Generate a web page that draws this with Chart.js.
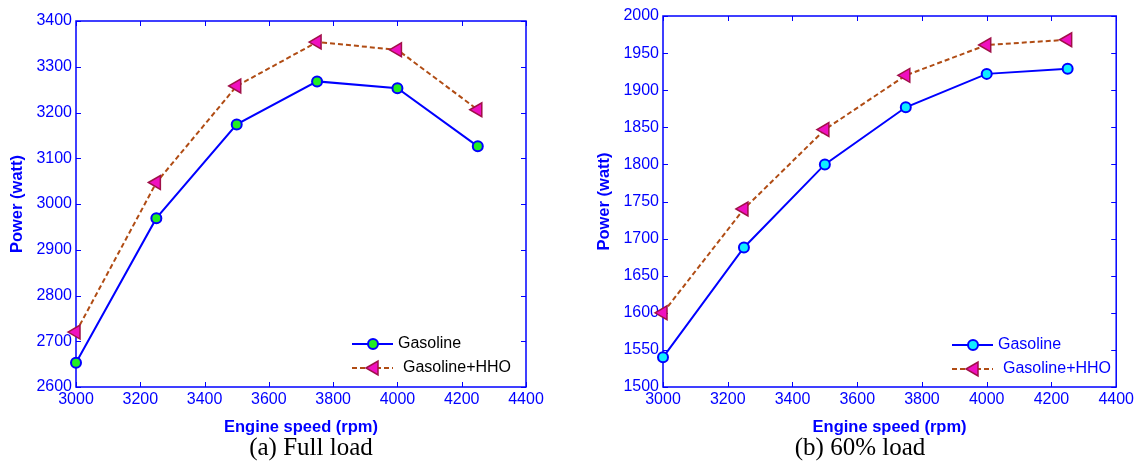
<!DOCTYPE html>
<html>
<head>
<meta charset="utf-8">
<script src="https://cdn.jsdelivr.net/npm/chart.js@4.4.0/dist/chart.umd.min.js"></script>
<style>
  body { margin: 0; background: #fff; width: 1137px; height: 465px; overflow: hidden; position: relative; }
  canvas { position: absolute; top: 0; }
  .cap { position: absolute; font-family: "Liberation Serif", "Times New Roman", serif; font-size: 25px; line-height: 28px; color: #000; white-space: nowrap; transform: translateX(-50%); }
</style>
</head>
<body>
<canvas id="chart1" width="560" height="465" style="left:0px"></canvas>
<canvas id="chart2" width="567" height="465" style="left:570px"></canvas>
<div class="cap" style="left:311px; top:433px;">(a) Full load</div>
<div class="cap" style="left:860px; top:433px;">(b) 60% load</div>
<script>
// engine speed (rpm)
var speeds = [3000, 3250, 3500, 3750, 4000, 4250];

// (a) full load
var fullGasoline = [2653, 2969, 3174, 3268, 3253, 3126];
var fullHHO = [2720, 3047, 3258, 3354, 3337, 3206];

// (b) 60% load
var partGasoline = [1540, 1688, 1800, 1877, 1922, 1929];
var partHHO = [1600, 1740, 1847, 1920, 1961, 1968];

var xTicks = [3000, 4400, 200];
var fullTicks = [2600, 3400, 100];
var partTicks = [1500, 2000, 50];

var blue = '#0000ff';
var brown = '#b04c14';

function pts(ys) {
    var arr = [];
    for (var i = 0; i < speeds.length; i++) {
        arr.push({x: speeds[i], y: ys[i]});
    }
    return arr;
}

// frame around plot + inward ticks on all four sides, like matlab
var framePlugin = {
    id: 'frame',
    beforeDatasetsDraw: function(chart) {
        var ctx = chart.ctx;
        var a = chart.chartArea;
        ctx.save();
        ctx.strokeStyle = blue;
        ctx.lineWidth = 1.5;
        ctx.strokeRect(a.left, a.top, a.right - a.left, a.bottom - a.top);
        ctx.lineWidth = 1;
        chart.scales.x.ticks.forEach(function(t) {
            var px = Math.round(chart.scales.x.getPixelForValue(t.value)) + 0.5;
            ctx.beginPath();
            ctx.moveTo(px, a.bottom); ctx.lineTo(px, a.bottom - 5);
            ctx.moveTo(px, a.top); ctx.lineTo(px, a.top + 5);
            ctx.stroke();
        });
        chart.scales.y.ticks.forEach(function(t) {
            var py = Math.round(chart.scales.y.getPixelForValue(t.value)) + 0.5;
            ctx.beginPath();
            ctx.moveTo(a.left, py); ctx.lineTo(a.left + 5, py);
            ctx.moveTo(a.right, py); ctx.lineTo(a.right - 5, py);
            ctx.stroke();
        });
        ctx.restore();
    }
};

// legend drawn inside the plot, bottom right
var legendPlugin = {
    id: 'innerLegend',
    afterDraw: function(chart, args, opts) {
        var ctx = chart.ctx;
        ctx.save();
        ctx.font = '16px "Liberation Sans", Arial, sans-serif';
        ctx.textBaseline = 'middle';
        ctx.fillStyle = opts.textColor;
        // gasoline row
        ctx.strokeStyle = blue;
        ctx.lineWidth = 2;
        ctx.beginPath();
        ctx.moveTo(opts.x, opts.y); ctx.lineTo(opts.x + 41, opts.y);
        ctx.stroke();
        ctx.beginPath();
        ctx.arc(opts.x + 21, opts.y, 5, 0, Math.PI * 2);
        ctx.fillStyle = opts.fill;
        ctx.fill();
        ctx.stroke();
        ctx.fillStyle = opts.textColor;
        ctx.fillText('Gasoline', opts.x + 46, opts.y);
        // hho row
        var y2 = opts.y + 24;
        ctx.strokeStyle = brown;
        ctx.setLineDash([5, 3]);
        ctx.beginPath();
        ctx.moveTo(opts.x, y2); ctx.lineTo(opts.x + 41, y2);
        ctx.stroke();
        ctx.setLineDash([]);
        ctx.beginPath();
        ctx.moveTo(opts.x + 14, y2);
        ctx.lineTo(opts.x + 26, y2 - 7);
        ctx.lineTo(opts.x + 26, y2 + 7);
        ctx.closePath();
        ctx.fillStyle = '#f010c0';
        ctx.fill();
        ctx.strokeStyle = '#a01048';
        ctx.lineWidth = 1.5;
        ctx.stroke();
        ctx.fillStyle = opts.textColor;
        ctx.fillText('Gasoline+HHO', opts.x + 51, y2);
        ctx.restore();
    }
};

function makeChart(id, gas, hho, yt, fill, box) {
    var canvas = document.getElementById(id);
    return new Chart(canvas, {
        type: 'line',
        data: {
            datasets: [{
                label: 'Gasoline',
                data: pts(gas),
                borderColor: blue,
                borderWidth: 2,
                pointRadius: 5,
                pointBackgroundColor: fill,
                pointBorderColor: blue,
                pointBorderWidth: 2,
                clip: false
            }, {
                label: 'Gasoline+HHO',
                data: pts(hho),
                borderColor: brown,
                borderWidth: 2,
                borderDash: [5, 3],
                pointStyle: 'triangle',
                rotation: -90,
                pointRadius: 8,
                pointBackgroundColor: '#f010c0',
                pointBorderColor: '#a01048',
                pointBorderWidth: 1.5,
                clip: false
            }]
        },
        options: {
            responsive: false,
            animation: false,
            layout: { padding: { top: box.top, right: box.right, left: 0, bottom: 0 } },
            plugins: {
                legend: { display: false },
                tooltip: { enabled: false },
                innerLegend: { x: box.legX, y: box.legY, fill: fill, textColor: box.legColor }
            },
            scales: {
                x: {
                    type: 'linear',
                    min: xTicks[0], max: xTicks[1],
                    ticks: { stepSize: xTicks[2], color: blue, padding: 3,
                        font: { family: '"Liberation Sans", Arial, sans-serif', size: 16 },
                        callback: function(v) { return v; } },
                    grid: { display: false, drawTicks: false },
                    border: { display: false },
                    title: { display: true, text: 'Engine speed (rpm)', color: blue,
                        font: { family: '"Liberation Sans", Arial, sans-serif', size: 16.5, weight: 'bold' },
                        padding: { top: 0, bottom: 28 } },
                    afterFit: function(s) { s.height = 465 - box.bottom; }
                },
                y: {
                    min: yt[0], max: yt[1],
                    ticks: { stepSize: yt[2], color: blue, padding: 4,
                        font: { family: '"Liberation Sans", Arial, sans-serif', size: 16 },
                        callback: function(v) { return v; } },
                    grid: { display: false, drawTicks: false },
                    border: { display: false },
                    title: { display: true, text: 'Power (watt)', color: blue,
                        font: { family: '"Liberation Sans", Arial, sans-serif', size: 16.5, weight: 'bold' },
                        padding: { top: box.titlePad, bottom: 0 } },
                    afterFit: function(s) { s.width = box.left; }
                }
            }
        },
        plugins: [framePlugin, legendPlugin]
    });
}

makeChart('chart1', fullGasoline, fullHHO, fullTicks, '#22ee22',
    { left: 76, top: 21, right: 34, bottom: 387, titlePad: 8, legX: 352, legY: 344, legColor: '#000' });
makeChart('chart2', partGasoline, partHHO, partTicks, '#10eeff',
    { left: 93, top: 16, right: 19, bottom: 387, titlePad: 25, legX: 382, legY: 345, legColor: blue });
</script>
</body>
</html>
